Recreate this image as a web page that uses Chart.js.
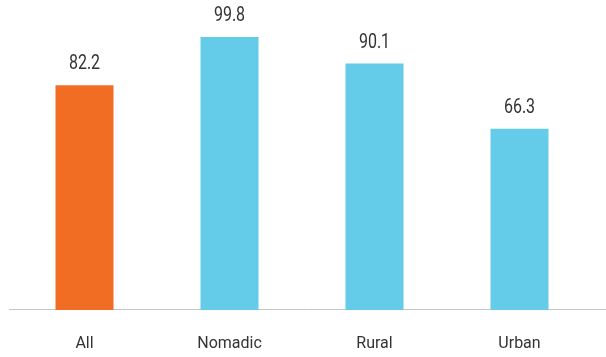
<!DOCTYPE html>
<html>
<head>
<meta charset="utf-8">
<script src="https://cdn.jsdelivr.net/npm/chart.js@4/dist/chart.umd.min.js"></script>
<style>
  html, body { margin: 0; padding: 0; background: #fff; }
  #wrap { width: 606px; height: 357px; }
</style>
</head>
<body>
<div id="wrap"><canvas id="c" width="606" height="357"></canvas></div>
<script>
const categories = ['All', 'Nomadic', 'Rural', 'Urban'];
const values = [82.2, 99.8, 90.1, 66.3];
const barColors = ['#F26D24', '#64CCE8', '#64CCE8', '#64CCE8'];

const FONT = 'Roboto, "Liberation Sans", sans-serif';
const TEXT = '#333333';

// Thin grey baseline spanning the full width under the bars
const baseline = {
  id: 'baseline',
  beforeDatasetsDraw(chart) {
    const { ctx, scales } = chart;
    const y = Math.round(scales.y.getPixelForValue(0)) - 0.5;
    ctx.save();
    ctx.strokeStyle = '#c4c4c4';
    ctx.lineWidth = 1;
    ctx.beginPath();
    ctx.moveTo(9, y);
    ctx.lineTo(chart.width, y);
    ctx.stroke();
    ctx.restore();
  }
};

// Value printed above each bar, in a narrow (condensed) setting
const valueLabels = {
  id: 'valueLabels',
  afterDatasetsDraw(chart) {
    const { ctx } = chart;
    const meta = chart.getDatasetMeta(0);
    const squeeze = 0.8;
    ctx.save();
    ctx.font = '20px ' + FONT;
    ctx.fillStyle = TEXT;
    ctx.textAlign = 'center';
    ctx.textBaseline = 'alphabetic';
    meta.data.forEach((bar, i) => {
      ctx.save();
      ctx.translate(bar.x, bar.y - 16);
      ctx.scale(squeeze, 1);
      ctx.fillText(values[i].toFixed(1), 0, 0);
      ctx.restore();
    });
    ctx.restore();
  }
};

new Chart(document.getElementById('c'), {
  type: 'bar',
  data: {
    labels: categories,
    datasets: [{
      data: values,
      backgroundColor: barColors,
      borderWidth: 0,
      barPercentage: 0.4,
      categoryPercentage: 1.0
    }]
  },
  options: {
    responsive: false,
    animation: false,
    layout: { padding: { left: 12, right: 14, top: 36.5, bottom: 0 } },
    plugins: { legend: { display: false }, tooltip: { enabled: false } },
    scales: {
      x: {
        grid: { display: false, drawTicks: false },
        border: { display: false },
        ticks: { color: TEXT, font: { family: FONT, size: 16 }, padding: 24 },
        afterFit(scale) { scale.height = 47; }
      },
      y: {
        display: false,
        min: 0,
        max: 100
      }
    }
  },
  plugins: [baseline, valueLabels]
});
</script>
</body>
</html>
